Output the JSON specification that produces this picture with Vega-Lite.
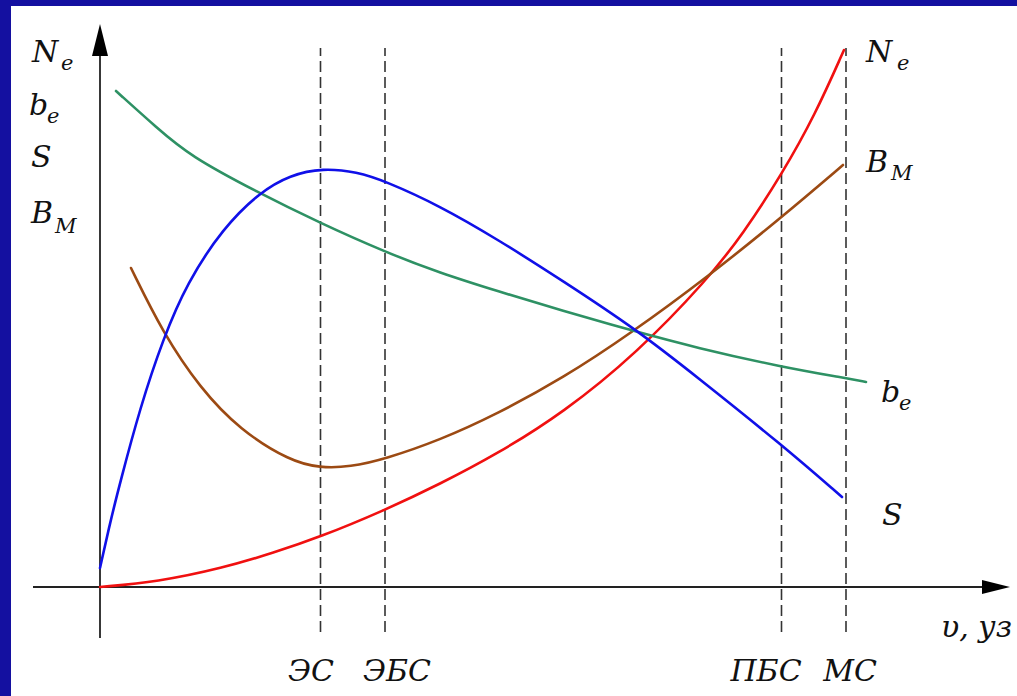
{
  "$schema": "https://vega.github.io/schema/vega-lite/v6.json",
  "autosize": {"type": "fit", "contains": "padding"},
  "width": 1017,
  "height": 696,
  "padding": {"left": 11, "top": 6, "right": 0, "bottom": 0},
  "background": "#1410a0",
  "config": {"view": {"stroke": null, "fill": "white"}},
  "datasets": {
    "curves": [
      {"series": "Ne", "x": 0, "y": 0},
      {"series": "Ne", "x": 5.7, "y": 0.5},
      {"series": "Ne", "x": 12.3, "y": 1.9},
      {"series": "Ne", "x": 17.3, "y": 3.4},
      {"series": "Ne", "x": 22, "y": 5.0},
      {"series": "Ne", "x": 28.3, "y": 7.6},
      {"series": "Ne", "x": 34, "y": 10.3},
      {"series": "Ne", "x": 39.7, "y": 13.3},
      {"series": "Ne", "x": 46.3, "y": 17.4},
      {"series": "Ne", "x": 53.7, "y": 23.4},
      {"series": "Ne", "x": 60.7, "y": 30.7},
      {"series": "Ne", "x": 64.3, "y": 35.3},
      {"series": "Ne", "x": 68.2, "y": 41.3},
      {"series": "Ne", "x": 71.5, "y": 47.2},
      {"series": "Ne", "x": 74.4, "y": 53.7},
      {"series": "BM", "x": 3.1, "y": 31.9},
      {"series": "BM", "x": 6.3, "y": 25.4},
      {"series": "BM", "x": 10, "y": 19.9},
      {"series": "BM", "x": 14, "y": 15.7},
      {"series": "BM", "x": 19, "y": 12.6},
      {"series": "BM", "x": 22, "y": 11.9},
      {"series": "BM", "x": 25, "y": 12.0},
      {"series": "BM", "x": 28.5, "y": 12.8},
      {"series": "BM", "x": 34, "y": 14.7},
      {"series": "BM", "x": 39.7, "y": 17.3},
      {"series": "BM", "x": 46.3, "y": 20.9},
      {"series": "BM", "x": 53, "y": 25.3},
      {"series": "BM", "x": 61, "y": 31.2},
      {"series": "BM", "x": 68.2, "y": 37.0},
      {"series": "BM", "x": 74.3, "y": 42.2},
      {"series": "be", "x": 1.6, "y": 49.6},
      {"series": "be", "x": 5.7, "y": 45.9},
      {"series": "be", "x": 9, "y": 43.1},
      {"series": "be", "x": 15.7, "y": 39.5},
      {"series": "be", "x": 22, "y": 36.4},
      {"series": "be", "x": 28.5, "y": 33.5},
      {"series": "be", "x": 34, "y": 31.4},
      {"series": "be", "x": 39.7, "y": 29.6},
      {"series": "be", "x": 46.3, "y": 27.6},
      {"series": "be", "x": 53, "y": 25.7},
      {"series": "be", "x": 59.7, "y": 23.9},
      {"series": "be", "x": 68.2, "y": 22.0},
      {"series": "be", "x": 74.5, "y": 20.9},
      {"series": "be", "x": 76.6, "y": 20.5},
      {"series": "S", "x": 0, "y": 1.9},
      {"series": "S", "x": 1, "y": 6.4},
      {"series": "S", "x": 2, "y": 10.4},
      {"series": "S", "x": 4, "y": 17.9},
      {"series": "S", "x": 6.3, "y": 24.8},
      {"series": "S", "x": 8.7, "y": 30.4},
      {"series": "S", "x": 12.3, "y": 35.9},
      {"series": "S", "x": 16, "y": 39.5},
      {"series": "S", "x": 19, "y": 41.2},
      {"series": "S", "x": 22.3, "y": 41.9},
      {"series": "S", "x": 25.7, "y": 41.5},
      {"series": "S", "x": 28.5, "y": 40.6},
      {"series": "S", "x": 34, "y": 38.1},
      {"series": "S", "x": 39.7, "y": 34.8},
      {"series": "S", "x": 46.3, "y": 30.6},
      {"series": "S", "x": 53.7, "y": 25.7},
      {"series": "S", "x": 59.7, "y": 21.0},
      {"series": "S", "x": 68.2, "y": 14.2},
      {"series": "S", "x": 74.2, "y": 9.0}
    ],
    "axes": [
      {"x": -6.7, "x2": 89.6, "y": 0, "y2": 0},
      {"x": 0, "x2": 0, "y": -5.1, "y2": 54.7}
    ],
    "marks": [
      {"name": "ЭС", "x": 22.05, "y": -4.5, "y2": 53.9},
      {"name": "ЭБС", "x": 28.5, "y": -4.5, "y2": 53.9},
      {"name": "ПБС", "x": 68.15, "y": -4.5, "y2": 53.9},
      {"name": "МС", "x": 74.6, "y": -4.5, "y2": 53.9}
    ],
    "arrows": [
      {"dir": "up", "x": 0, "y": 54.7},
      {"dir": "right", "x": 89.6, "y": 0}
    ],
    "mainLabels": [
      {"text": "N", "x": -6.8, "y": 52.5},
      {"text": "b", "x": -7.1, "y": 47.2},
      {"text": "S", "x": -6.9, "y": 42.0},
      {"text": "B", "x": -6.9, "y": 36.4},
      {"text": "N", "x": 76.6, "y": 52.5},
      {"text": "B", "x": 76.6, "y": 41.5},
      {"text": "b", "x": 78.1, "y": 18.5},
      {"text": "S", "x": 78.2, "y": 6.2},
      {"text": "υ, уз", "x": 84.1, "y": -5.0}
    ],
    "subLabels": [
      {"text": "e", "x": -3.9, "y": 51.7},
      {"text": "e", "x": -5.3, "y": 46.4},
      {"text": "M", "x": -4.5, "y": 35.4},
      {"text": "e", "x": 79.7, "y": 51.7},
      {"text": "M", "x": 79.1, "y": 40.7},
      {"text": "e", "x": 79.9, "y": 17.7}
    ],
    "speedLabels": [
      {"text": "ЭС", "x": 21.1, "y": -9.4},
      {"text": "ЭБС", "x": 29.7, "y": -9.4},
      {"text": "ПБС", "x": 66.6, "y": -9.4},
      {"text": "МС", "x": 75.0, "y": -9.4}
    ]
  },
  "encoding": {
    "x": {"field": "x", "type": "quantitative", "scale": {"domain": [-8.9, 91.7], "nice": false, "zero": false}, "axis": null},
    "y": {"field": "y", "type": "quantitative", "scale": {"domain": [-10.9, 58.1], "nice": false, "zero": false}, "axis": null}
  },
  "layer": [
    {
      "data": {"name": "marks"},
      "mark": {"type": "rule", "color": "#333333", "strokeWidth": 1.6, "strokeDash": [11, 5]},
      "encoding": {"y2": {"field": "y2"}}
    },
    {
      "data": {"name": "axes"},
      "mark": {"type": "rule", "color": "#222222", "strokeWidth": 1.8},
      "encoding": {"x2": {"field": "x2"}, "y2": {"field": "y2"}}
    },
    {
      "data": {"name": "arrows"},
      "transform": [{"filter": "datum.dir === 'up'"}],
      "mark": {"type": "point", "shape": "M-0.5,1L0.5,1L0,-1Z", "filled": true, "color": "#000000", "size": 1024, "opacity": 1}
    },
    {
      "data": {"name": "arrows"},
      "transform": [{"filter": "datum.dir === 'right'"}],
      "mark": {"type": "point", "shape": "M-1,-0.5L-1,0.5L1,0Z", "filled": true, "color": "#000000", "size": 784, "opacity": 1}
    },
    {
      "data": {"name": "curves"},
      "mark": {"type": "line", "interpolate": "basis", "strokeWidth": 2.6, "strokeCap": "round"},
      "encoding": {
        "color": {"field": "series", "type": "nominal", "scale": {"domain": ["Ne", "BM", "be", "S"], "range": ["#f01010", "#9c4a13", "#2e9164", "#1010e8"]}, "legend": null}
      }
    },
    {
      "data": {"name": "mainLabels"},
      "mark": {"type": "text", "font": "DejaVu Serif", "fontStyle": "italic", "fontSize": 30, "align": "left", "baseline": "alphabetic", "color": "#111111"},
      "encoding": {"text": {"field": "text"}}
    },
    {
      "data": {"name": "subLabels"},
      "mark": {"type": "text", "font": "DejaVu Serif", "fontStyle": "italic", "fontSize": 21, "align": "left", "baseline": "alphabetic", "color": "#111111"},
      "encoding": {"text": {"field": "text"}}
    },
    {
      "data": {"name": "speedLabels"},
      "mark": {"type": "text", "font": "DejaVu Serif", "fontStyle": "italic", "fontSize": 30, "align": "center", "baseline": "alphabetic", "color": "#111111"},
      "encoding": {"text": {"field": "text"}}
    }
  ]
}
